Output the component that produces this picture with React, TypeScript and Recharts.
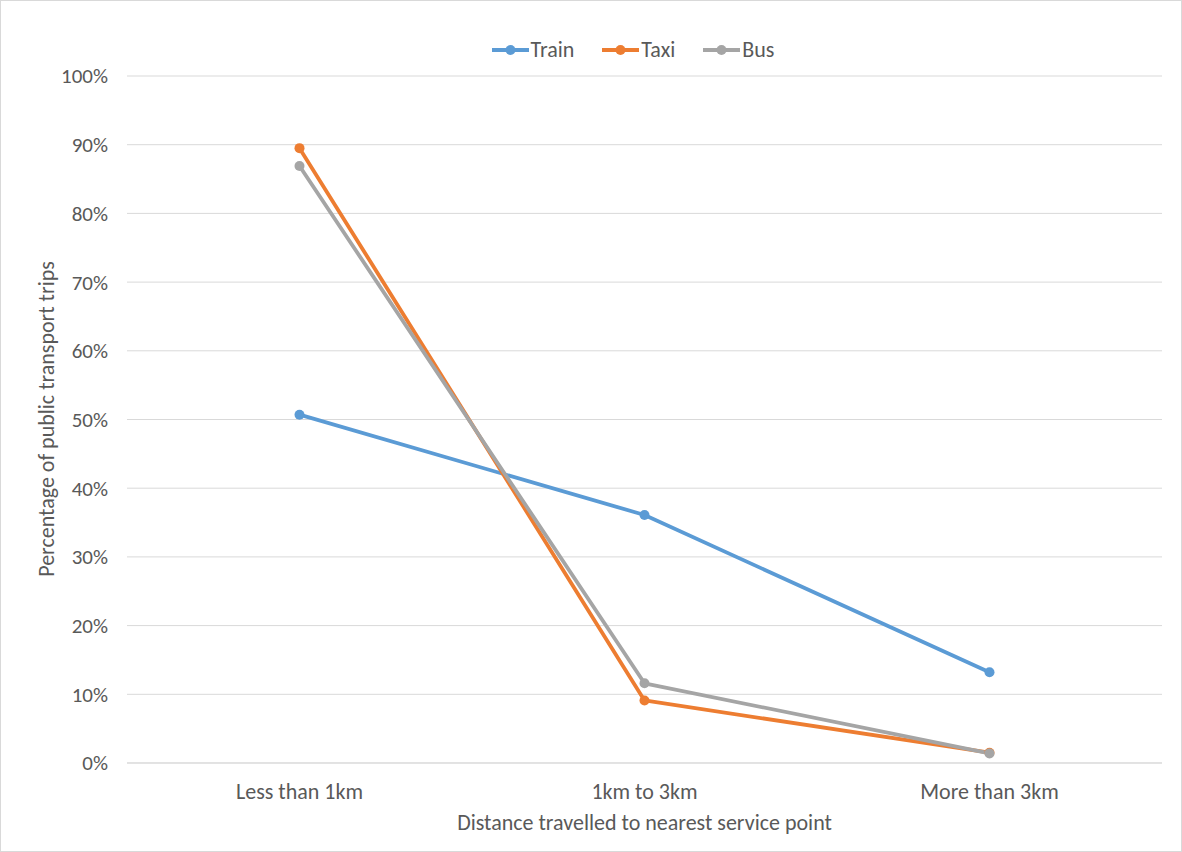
import React from 'react';
import {
  CartesianGrid,
  Legend,
  Line,
  LineChart,
  XAxis,
  YAxis,
} from 'recharts';

const distances = ['Less than 1km', '1km to 3km', 'More than 3km'];
const train = [50.7, 36.1, 13.2];
const taxi = [89.5, 9.1, 1.5];
const bus = [86.9, 11.6, 1.4];
const yTicks = [0, 10, 20, 30, 40, 50, 60, 70, 80, 90, 100];

const seriesInfo = [
  { key: 'Train', color: '#5B9BD5' },
  { key: 'Taxi', color: '#ED7D31' },
  { key: 'Bus', color: '#A5A5A5' },
];

const data = distances.map((d, i) => ({
  name: d,
  Train: train[i],
  Taxi: taxi[i],
  Bus: bus[i],
}));

const FONT = "Carlito, Calibri, Lato, sans-serif";
const TEXT = '#595959';

function LegendRow() {
  return (
    <div
      style={{
        display: 'flex',
        justifyContent: 'center',
        gap: 28,
        fontFamily: FONT,
        fontSize: 22,
        lineHeight: '24px',
        height: 24,
        color: TEXT,
        marginLeft: 84,
      }}
    >
      {seriesInfo.map((s) => (
        <div key={s.key} style={{ display: 'flex', alignItems: 'center' }}>
          <svg width={37} height={12} style={{ marginRight: 2 }}>
            <line x1={0} y1={6} x2={37} y2={6} stroke={s.color} strokeWidth={4} />
            <circle cx={18.5} cy={6} r={5} fill={s.color} />
          </svg>
          <span>{s.key}</span>
        </div>
      ))}
    </div>
  );
}

function YLabel() {
  return (
    <text
      x={45}
      y={418}
      transform="rotate(-90 45 418)"
      textAnchor="middle"
      dominantBaseline="central"
      fill={TEXT}
      fontSize={22}
      fontFamily={FONT}
    >
      Percentage of public transport trips
    </text>
  );
}

export default function App() {
  return (
    <div
      style={{
        position: 'absolute',
        left: 0,
        top: 0,
        width: 1182,
        height: 852,
        background: '#fff',
        border: '1px solid #D9D9D9',
        boxSizing: 'border-box',
      }}
    >
      <LineChart
        width={1180}
        height={850}
        data={data}
        margin={{ top: 51, right: 19, left: 0, bottom: 18 }}
        style={{ fontFamily: FONT }}
      >
        <CartesianGrid stroke="#D9D9D9" vertical={false} />
        <XAxis
          dataKey="name"
          scale="band"
          height={70}
          tickLine={false}
          axisLine={{ stroke: '#D9D9D9' }}
          tickMargin={14}
          tick={{ fontSize: 22, fill: TEXT, fontFamily: FONT }}
          label={{
            value: 'Distance travelled to nearest service point',
            position: 'insideBottom',
            offset: 3,
            fill: TEXT,
            fontSize: 22,
            fontFamily: FONT,
          }}
        />
        <YAxis
          width={126}
          domain={[0, 100]}
          ticks={yTicks}
          interval={0}
          tickLine={false}
          axisLine={false}
          tickMargin={13}
          tickFormatter={(v: number) => `${v}%`}
          tick={{ fontSize: 21, fill: TEXT, fontFamily: FONT }}
          label={{ content: () => <YLabel /> }}
        />
        <Legend
          verticalAlign="top"
          align="center"
          content={() => <LegendRow />}
          wrapperStyle={{ top: 37, left: 0, width: 1180 }}
        />
        {seriesInfo.map((s) => (
          <Line
            key={s.key}
            type="linear"
            dataKey={s.key}
            stroke={s.color}
            strokeWidth={3.8}
            strokeLinejoin="round"
            strokeLinecap="round"
            dot={{ r: 5, fill: s.color, stroke: s.color, strokeWidth: 0 }}
            activeDot={false}
            isAnimationActive={false}
          />
        ))}
      </LineChart>
    </div>
  );
}
